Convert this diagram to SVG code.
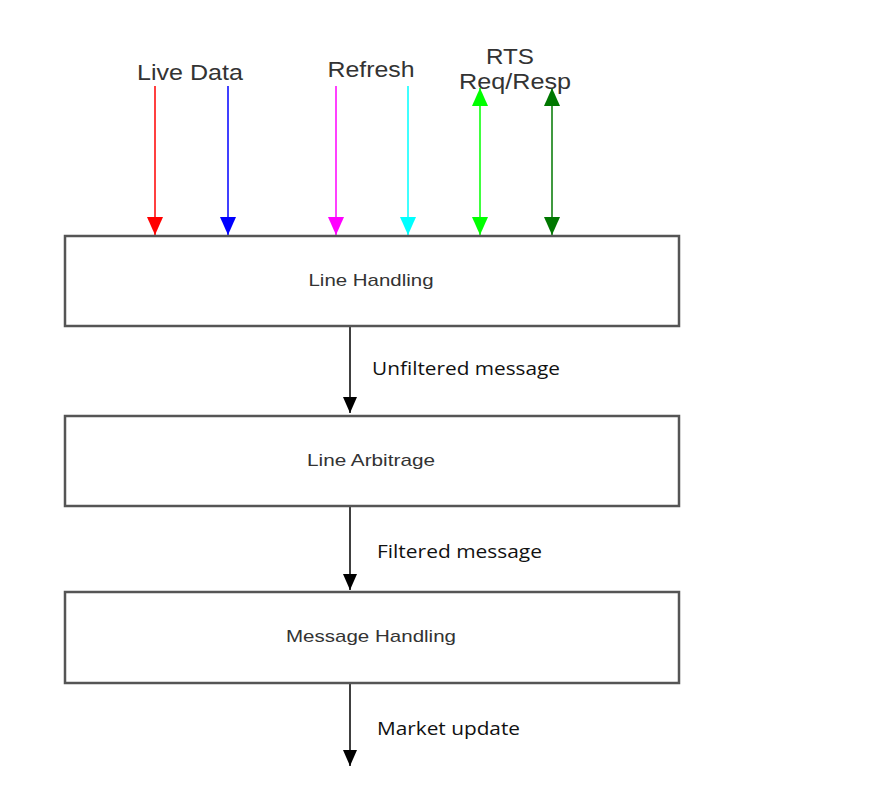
<svg xmlns="http://www.w3.org/2000/svg" width="884" height="785" viewBox="0 0 884 785">
<style>
.box{fill:#fff;stroke:#555;stroke-width:2.5}
.bt{font-family:"Liberation Sans",Arial,sans-serif;font-size:17px;fill:#333;text-anchor:middle}
.lt{font-family:"Liberation Sans",Arial,sans-serif;font-size:22px;fill:#333;text-anchor:middle}
.ct{font-family:"Open Sans","Liberation Sans",sans-serif;font-size:19px;fill:#111}
.blk{stroke:#000;stroke-width:1.5;fill:none}
</style>
<defs>
<marker id="ah" viewBox="0 0 18 16" refX="18" refY="8" markerWidth="18" markerHeight="16" markerUnits="userSpaceOnUse" orient="auto-start-reverse"><path d="M0,0 L18,8 L0,16 Z" fill="context-stroke"/></marker>
<marker id="bh" viewBox="0 0 16 14" refX="16" refY="7" markerWidth="16" markerHeight="14" markerUnits="userSpaceOnUse" orient="auto"><path d="M0,0 L16,7 L0,14 Z" fill="#000"/></marker>
</defs>
<g id="connectors">
<line x1="155" y1="86" x2="155" y2="235" stroke="#ff0000" stroke-width="1.5" marker-end="url(#ah)" fill="none"/>
<line x1="228" y1="86" x2="228" y2="235" stroke="#0000ff" stroke-width="1.5" marker-end="url(#ah)" fill="none"/>
<line x1="336" y1="86" x2="336" y2="235" stroke="#ff00ff" stroke-width="1.5" marker-end="url(#ah)" fill="none"/>
<line x1="408" y1="86" x2="408" y2="235" stroke="#00ffff" stroke-width="1.5" marker-end="url(#ah)" fill="none"/>
<line x1="480" y1="88" x2="480" y2="235" stroke="#00ff00" stroke-width="1.5" marker-start="url(#ah)" marker-end="url(#ah)" fill="none"/>
<line x1="552" y1="88" x2="552" y2="235" stroke="#007700" stroke-width="1.5" marker-start="url(#ah)" marker-end="url(#ah)" fill="none"/>
<line class="blk" x1="350" y1="327" x2="350" y2="413" marker-end="url(#bh)"/>
<line class="blk" x1="350" y1="507" x2="350" y2="590" marker-end="url(#bh)"/>
<line class="blk" x1="350" y1="684" x2="350" y2="766" marker-end="url(#bh)"/>
</g>
<g id="labels">
<text class="lt" x="190" y="80" textLength="106" lengthAdjust="spacingAndGlyphs">Live Data</text>
<text class="lt" x="371" y="77" textLength="87" lengthAdjust="spacingAndGlyphs">Refresh</text>
<text class="lt" x="510" y="64" textLength="48" lengthAdjust="spacingAndGlyphs">RTS</text>
<text class="lt" x="515" y="89" textLength="112" lengthAdjust="spacingAndGlyphs">Req/Resp</text>
<text class="ct" x="372" y="375" textLength="188" lengthAdjust="spacingAndGlyphs">Unfiltered message</text>
<text class="ct" x="377" y="558" textLength="165" lengthAdjust="spacingAndGlyphs">Filtered message</text>
<text class="ct" x="377" y="735" textLength="143" lengthAdjust="spacingAndGlyphs">Market update</text>
</g>
<g id="line-handling"><rect class="box" x="65" y="236" width="614" height="90"/><text class="bt" x="371" y="286" textLength="125" lengthAdjust="spacingAndGlyphs">Line Handling</text></g>
<g id="line-arbitrage"><rect class="box" x="65" y="416" width="614" height="90"/><text class="bt" x="371" y="466" textLength="128" lengthAdjust="spacingAndGlyphs">Line Arbitrage</text></g>
<g id="message-handling"><rect class="box" x="65" y="592" width="614" height="91"/><text class="bt" x="371" y="642" textLength="170" lengthAdjust="spacingAndGlyphs">Message Handling</text></g>
</svg>
